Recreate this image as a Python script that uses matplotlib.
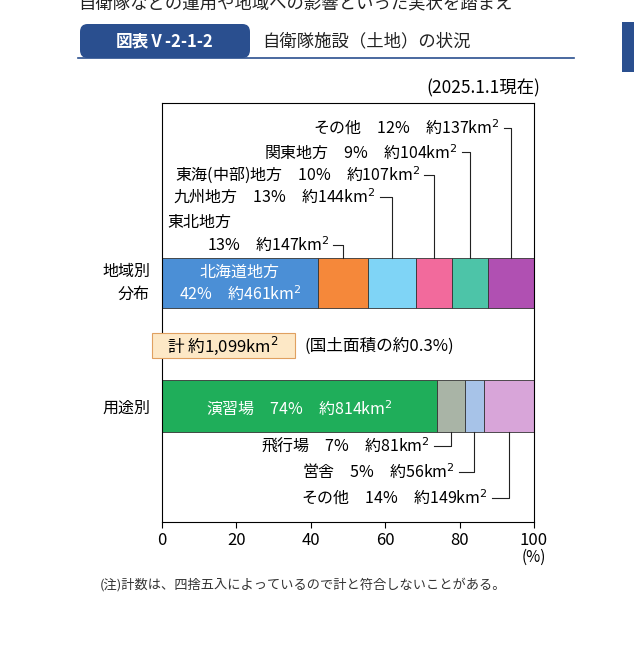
import matplotlib
matplotlib.use("Agg")
import matplotlib.pyplot as plt
from matplotlib.patches import FancyBboxPatch, Rectangle

plt.rcParams['font.family'] = ['Noto Sans CJK JP', 'DejaVu Sans']

region_names = ["北海道地方", "東北地方", "九州地方", "東海(中部)地方", "関東地方", "その他"]
region_pct = [42, 13, 13, 10, 9, 12]
region_km2 = [461, 147, 144, 107, 104, 137]
region_colors = ["#4b8fd6", "#f5883a", "#7fd4f6", "#f26a9c", "#4dc4a8", "#b050b2"]

use_names = ["演習場", "飛行場", "営舎", "その他"]
use_pct = [74, 7, 5, 14]
use_km2 = [814, 81, 56, 149]
use_colors = ["#1fae5a", "#a9b4a6", "#a7c3e8", "#d8a5d9"]

total = 1099
xticks = [0, 20, 40, 60, 80, 100]

W, H = 634, 655
fig = plt.figure(figsize=(W/100, H/100), dpi=100)
L, R, T, B = 162, 534, 103, 522
ax = fig.add_axes([L/W, 1-B/H, (R-L)/W, (B-T)/H])
ax.set_xlim(0, 100)
ax.set_ylim(B, T)  # y in pixel units

def widths(km):
    s = sum(km)
    return [k/s*100 for k in km]

rw = widths(region_km2)
uw = widths(use_km2)
left = 0
rl = []
for w, c in zip(rw, region_colors):
    ax.barh(283, w, left=left, height=50, color=c, edgecolor='#333333', linewidth=0.6)
    rl.append(left); left += w
left = 0
ul = []
for w, c in zip(uw, use_colors):
    ax.barh(406, w, left=left, height=52, color=c, edgecolor='#333333', linewidth=0.6)
    ul.append(left); left += w

fs = 11.5
sp = "\u3000"
ax.text(rw[0]/2, 272, region_names[0], ha='center', va='center', color='white', fontsize=fs)
ax.text(rw[0]/2, 294, f"{region_pct[0]}%{sp}約{region_km2[0]}km$^2$", ha='center', va='center', color='white', fontsize=fs)
ax.text(uw[0]/2, 408, f"{use_names[0]}{sp}{use_pct[0]}%{sp}約{use_km2[0]}km$^2$", ha='center', va='center', color='white', fontsize=fs)

def px2x(p): return (p-L)/(R-L)*100
lead = [(5, 128, 500), (4, 152, 458), (3, 175, 420), (2, 197, 376)]
for i, ty, tx in lead:
    xm = rl[i] + rw[i]/2
    ax.text(px2x(tx), ty, f"{region_names[i]}{sp}{region_pct[i]}%{sp}約{region_km2[i]}km$^2$", ha='right', va='center', fontsize=fs)
    ax.plot([px2x(tx+4), xm, xm], [ty, ty, 258], color='#222222', lw=0.8)
ax.text(px2x(167), 222, region_names[1], ha='left', va='center', fontsize=fs)
ax.text(px2x(330), 245, f"{region_pct[1]}%{sp}約{region_km2[1]}km$^2$", ha='right', va='center', fontsize=fs)
xm = rl[1] + rw[1]/2
ax.plot([px2x(333), xm, xm], [245, 245, 258], color='#222222', lw=0.8)

ulead = [(1, 446, 430), (2, 472, 455), (3, 498, 488)]
for i, ty, tx in ulead:
    xm = ul[i] + uw[i]/2
    ax.text(px2x(tx), ty, f"{use_names[i]}{sp}{use_pct[i]}%{sp}約{use_km2[i]}km$^2$", ha='right', va='center', fontsize=fs)
    ax.plot([px2x(tx+4), xm, xm], [ty, ty, 432], color='#222222', lw=0.8)

ax.set_xticks(xticks)
ax.set_xticklabels([str(t) for t in xticks], fontsize=12)
ax.set_yticks([])
ax.tick_params(axis='x', length=4, width=0.8)
for s in ax.spines.values():
    s.set_linewidth(0.8)

def ft(x, y, s, **kw):
    fig.text(x/W, 1-y/H, s, **kw)

ft(534, 557, "(%)", ha='center', va='center', fontsize=11)
ft(150, 283, "地域別\n分布", ha='right', va='center', fontsize=fs, linespacing=1.5)
ft(150, 408, "用途別", ha='right', va='center', fontsize=fs)
ft(540, 88, "(2025.1.1現在)", ha='right', va='center', fontsize=12.5)

box = FancyBboxPatch((152/W, 1-358/H), 143/W, 25/H, boxstyle="square,pad=0",
                     transform=fig.transFigure, facecolor='#fde8c6', edgecolor='#e0a060', lw=0.8)
fig.patches.append(box)
ft(223, 346, f"計 約{total:,}km$^2$", ha='center', va='center', fontsize=12)
ft(305, 346, "(国土面積の約0.3%)", ha='left', va='center', fontsize=12)

ft(100, 585, "(注)計数は、四捨五入によっているので計と符合しないことがある。", ha='left', va='center', fontsize=9.5, color='#333333')

hb = FancyBboxPatch((80/W, 1-58/H), 170/W, 34/H, boxstyle="round,pad=0,rounding_size=0.012",
                    transform=fig.transFigure, facecolor='#2a4f8f', edgecolor='none')
fig.patches.append(hb)
ft(165, 41, "図表Ⅴ-2-1-2", ha='center', va='center', fontsize=12, color='white', fontweight='bold')
ft(262, 41, "自衛隊施設（土地）の状況", ha='left', va='center', fontsize=12.5, color='#222222')
fig.add_artist(plt.Line2D([78/W, 574/W], [1-58/H, 1-58/H], color='#2a4f8f', lw=1.2, transform=fig.transFigure))
fig.patches.append(Rectangle((622/W, 1-72/H), 12/W, 50/H, transform=fig.transFigure, facecolor='#2a4f8f', edgecolor='none'))
ft(78, 3, "自衛隊などの運用や地域への影響といった実状を踏まえ", ha='left', va='center', fontsize=12.5, color='#222222')

fig.savefig("out.png", dpi=100)
